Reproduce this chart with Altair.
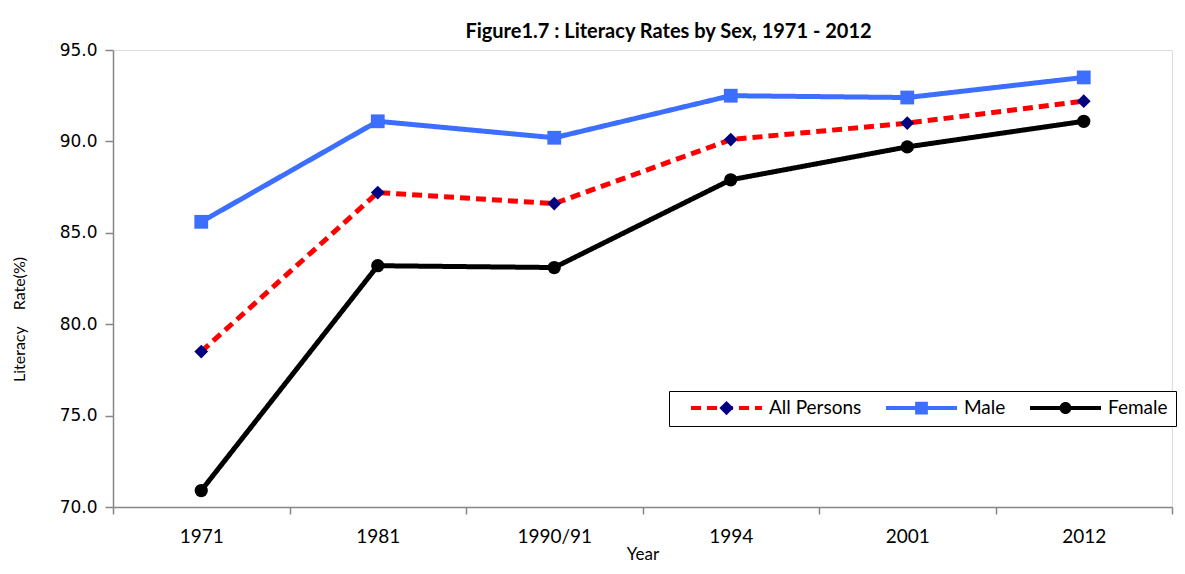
import altair as alt
import pandas as pd

years = ["1971", "1981", "1990/91", "1994", "2001", "2012"]
all_persons = [78.5, 87.2, 86.6, 90.1, 91.0, 92.2]
male = [85.6, 91.1, 90.2, 92.5, 92.4, 93.5]
female = [70.9, 83.2, 83.1, 87.9, 89.7, 91.1]

series_names = ["All Persons", "Male", "Female"]
line_colors = ["#FF0000", "#3C6EFF", "#000000"]
marker_colors = ["#000080", "#3C6EFF", "#000000"]
line_dashes = [[10, 6], [1, 0], [1, 0]]
marker_shapes = ["diamond", "square", "circle"]
marker_sizes = [190, 190, 175]
y_ticks = [70, 75, 80, 85, 90, 95]

rows = []
for name, vals in zip(series_names, [all_persons, male, female]):
    for yr, v in zip(years, vals):
        rows.append({"year": yr, "series": name, "value": v})
df = pd.DataFrame(rows)

FONT = "Lato"

x_enc = alt.X(
    "year:N",
    sort=years,
    scale=alt.Scale(type="band", paddingInner=0, paddingOuter=0),
    axis=alt.Axis(
        title="Year",
        labelAngle=0,
        tickBand="extent",
        tickSize=7,
        labelPadding=13,
        labelFont=FONT,
        labelFontSize=19,
        labelColor="black",
        titleFont=FONT,
        titleFontSize=17,
        titleFontWeight="normal",
        titleColor="black",
        titlePadding=0,
        domainColor="#868686",
        tickColor="#868686",
        domainWidth=1.5,
        tickWidth=1.5,
        grid=False,
    ),
)
y_enc = alt.Y(
    "value:Q",
    scale=alt.Scale(domain=[70, 95], nice=False, zero=False),
    axis=alt.Axis(
        title="Literacy\u00a0\u00a0\u00a0\u00a0Rate(%)",
        values=y_ticks,
        format=".1f",
        tickSize=8,
        labelPadding=8,
        labelFont="DejaVu Sans",
        labelFontSize=17,
        labelColor="black",
        titleFont=FONT,
        titleFontSize=16,
        titleFontWeight="normal",
        titleColor="black",
        titleX=-94,
        titleY=269,
        titleAlign="center",
        titleBaseline="middle",
        domainColor="#868686",
        tickColor="#868686",
        domainWidth=1.5,
        tickWidth=1.5,
        grid=False,
    ),
)

base = alt.Chart(df)

layers = []
for name, lc, dash in zip(series_names, line_colors, line_dashes):
    layers.append(
        base.transform_filter(alt.datum.series == name)
        .mark_line(strokeWidth=5, color=lc, strokeDash=dash)
        .encode(x=x_enc, y=y_enc)
    )
for name, mc, shp, sz in zip(series_names, marker_colors, marker_shapes, marker_sizes):
    layers.append(
        base.transform_filter(alt.datum.series == name)
        .mark_point(shape=shp, filled=True, size=sz, color=mc, opacity=1)
        .encode(x=x_enc, y=y_enc)
    )

# Legend: line symbols (legend 1) overlaid with marker symbols (legend 2)
LX, LY = 556, 341
common = dict(
    orient="none",
    legendX=LX,
    legendY=LY,
    direction="horizontal",
    title="\u00a0",
    titleOrient="left",
    titlePadding=12,
    titleFontSize=10,
    labelFont=FONT,
    labelFontSize=19,
    labelOffset=5,
    columnPadding=22,
    padding=8,
    clipHeight=18,
    symbolOpacity=1,
)
leg_lines = alt.Legend(
    symbolType="stroke",
    symbolSize=5041,
    symbolStrokeWidth=4,
    labelColor="black",
    strokeColor="black",
    fillColor="white",
    zindex=0,
    **common,
)
leg_marks = alt.Legend(
    symbolSize=5625,
    symbolStrokeWidth=0,
    labelOpacity=0,
    labelExpr="trim(datum.label)",
    zindex=1,
    **common,
)
names2 = [n + " " for n in series_names]
marker_paths = [
    "M-1,0M1,0M0,-0.19L0.19,0L0,0.19L-0.19,0Z",
    "M-1,0M1,0M-0.17,-0.17L0.17,-0.17L0.17,0.17L-0.17,0.17Z",
    "M-1,0M1,0M-0.16,0A0.16,0.16 0 1,0 0.16,0A0.16,0.16 0 1,0 -0.16,0Z",
]

legend_layer = (
    base.transform_calculate(series2="datum.series + ' '")
    .transform_filter("false")
    .mark_point(filled=True, opacity=1)
    .encode(
        x=x_enc,
        y=y_enc,
        stroke=alt.Stroke("series:N", scale=alt.Scale(domain=series_names, range=line_colors), legend=leg_lines),
        strokeDash=alt.StrokeDash(
            "series:N",
            scale=alt.Scale(domain=series_names, range=line_dashes),
            legend=leg_lines,
        ),
        fill=alt.Fill("series2:N", scale=alt.Scale(domain=names2, range=marker_colors), legend=leg_marks),
        shape=alt.Shape("series2:N", scale=alt.Scale(domain=names2, range=marker_paths), legend=leg_marks),
    )
)
layers.append(legend_layer)

chart = (
    alt.layer(*layers)
    .properties(
        width=1059,
        height=457,
        padding={"left": 105, "top": 42, "right": 5, "bottom": 59},
        autosize=alt.AutoSizeParams(type="none"),
        title=alt.TitleParams(
            text="Figure1.7 : Literacy Rates by Sex, 1971 - 2012",
            font=FONT,
            fontSize=20,
            fontWeight="bold",
            color="black",
            anchor="middle",
            dx=26,
            dy=31,
            offset=14,
            baseline="alphabetic",
        ),
    )
    .configure_view(stroke=None)
    .configure(background="white")
)

chart.save("out.html", embed_options={"renderer": "svg", "actions": False})
